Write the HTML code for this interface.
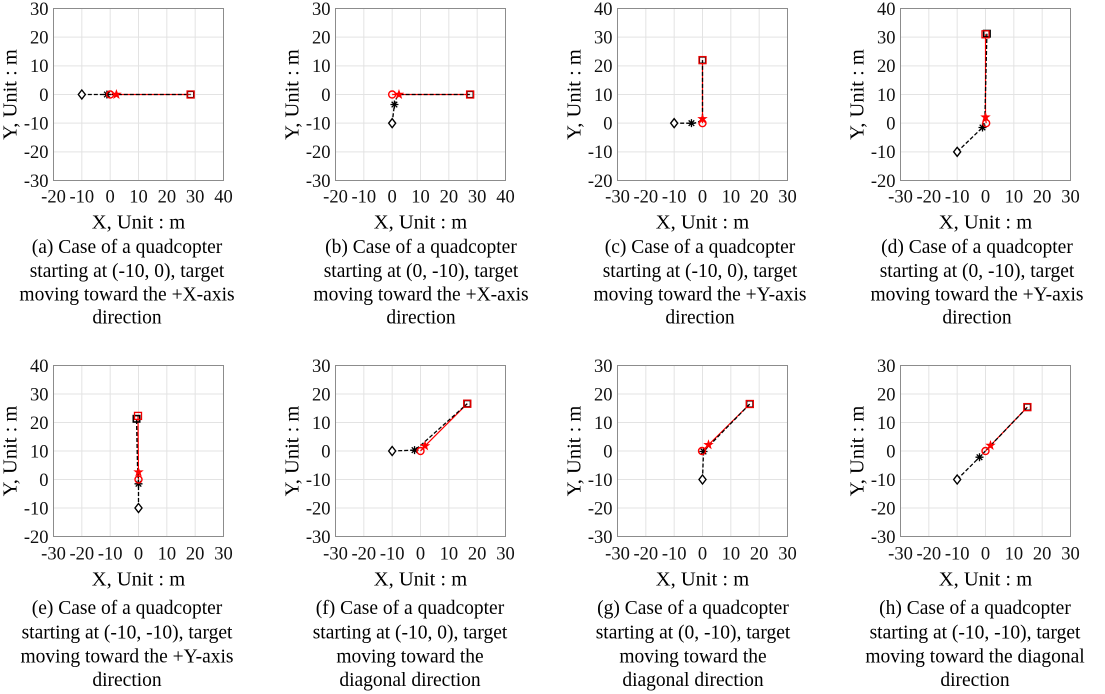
<!DOCTYPE html>
<html><head><meta charset="utf-8"><style>
html,body{margin:0;padding:0;background:#fff;}
svg{display:block;}
text{font-family:"Liberation Serif","Times New Roman",Times,"DejaVu Serif",serif;}
.tk{font-size:18.5px;fill:#111;}
.tx{text-anchor:middle;}
.ty{text-anchor:end;}
.lb{font-size:20.5px;fill:#000;text-anchor:middle;}
.cp{font-size:19.5px;fill:#000;text-anchor:middle;}
.rl{fill:none;stroke:#f00;stroke-width:1.2;}
.bl{fill:none;stroke:#000;stroke-width:1.3;stroke-dasharray:4,2;}
.bx{fill:none;stroke:#8c8c8c;stroke-width:1;}
</style></head><body>
<svg width="1105" height="694" viewBox="0 0 1105 694" xmlns="http://www.w3.org/2000/svg" font-family="Liberation Serif, Times New Roman, DejaVu Serif, serif">
<defs>
<path id="dia" d="M0,-4.5L3.5,0L0,4.5L-3.5,0Z" fill="#fff" stroke="#000" stroke-width="1.4"/>
<path id="ast" d="M0,-4V4M-4,0H4M-2.8,-2.8L2.8,2.8M-2.8,2.8L2.8,-2.8" stroke="#000" stroke-width="1.3" fill="none"/>
<circle id="cir" r="3.5" fill="none" stroke="#f00" stroke-width="1.4"/>
<path id="stp" d="M0,-5.5L1.29,-1.78L5.23,-1.7L2.09,0.68L3.23,4.45L0,2.2L-3.23,4.45L-2.09,0.68L-5.23,-1.7L-1.29,-1.78Z" fill="#f00"/>
<rect id="sqk" x="-3.2" y="-3.2" width="6.4" height="6.4" fill="none" stroke="#000" stroke-width="1.6"/>
<rect id="sqr" x="-3.5" y="-3.5" width="7" height="7" fill="none" stroke="#e00" stroke-width="1.3"/>
<g id="ax1"><rect width="170" height="172" fill="#fff"/><path d="M28.33,0V172M56.67,0V172M85,0V172M113.33,0V172M141.67,0V172M0,28.67H170M0,57.33H170M0,86H170M0,114.67H170M0,143.33H170" stroke="#e3e3e3" stroke-width="1" fill="none"/></g>
<g id="ax2"><rect width="170" height="171" fill="#fff"/><path d="M28.33,0V171M56.67,0V171M85,0V171M113.33,0V171M141.67,0V171M0,28.5H170M0,57H170M0,85.5H170M0,114H170M0,142.5H170" stroke="#e3e3e3" stroke-width="1" fill="none"/></g>
</defs>
<rect width="1105" height="694" fill="#fff"/>

<!-- (a) -->
<g transform="translate(53.5,8.5)">
<use href="#ax1"/>
<path class="rl" d="M56.67,86H137.1"/>
<path class="bl" d="M28.33,86H137.1"/>
<use href="#dia" x="28.33" y="86"/><use href="#ast" x="53.4" y="86"/><use href="#cir" x="56.67" y="86"/>
<use href="#sqk" x="137.1" y="86"/><use href="#sqr" x="137.1" y="86"/><use href="#stp" x="62.9" y="86"/>
<rect class="bx" width="170" height="172"/>
<g class="tk ty" font-family="Liberation Serif, DejaVu Serif, serif"><text x="-5" y="6.3">30</text><text x="-5" y="35">20</text><text x="-5" y="63.6">10</text><text x="-5" y="92.3">0</text><text x="-5" y="121">-10</text><text x="-5" y="149.6">-20</text><text x="-5" y="178.3">-30</text></g>
<g class="tk tx" font-family="Liberation Serif, DejaVu Serif, serif"><text x="0" y="194">-20</text><text x="28.33" y="194">-10</text><text x="56.67" y="194">0</text><text x="85" y="194">10</text><text x="113.33" y="194">20</text><text x="141.67" y="194">30</text><text x="170" y="194">40</text></g>
<text class="lb" font-family="Liberation Serif, DejaVu Serif, serif" x="85" y="220">X, Unit : m</text>
<text class="lb" font-family="Liberation Serif, DejaVu Serif, serif" transform="translate(-44,86) rotate(-90)" y="7">Y, Unit : m</text>
</g>

<!-- (b) -->
<g transform="translate(335.5,8.5)">
<use href="#ax1"/>
<path class="rl" d="M56.67,86H134.6"/>
<path class="bl" d="M56.67,114.67L58.93,96.03Q60.5,87 66,86H134.6"/>
<use href="#dia" x="56.67" y="114.67"/><use href="#ast" x="58.93" y="96.03"/><use href="#cir" x="56.67" y="86"/>
<use href="#sqk" x="134.6" y="86"/><use href="#sqr" x="134.6" y="86"/><use href="#stp" x="63.47" y="86"/>
<rect class="bx" width="170" height="172"/>
<g class="tk ty" font-family="Liberation Serif, DejaVu Serif, serif"><text x="-5" y="6.3">30</text><text x="-5" y="35">20</text><text x="-5" y="63.6">10</text><text x="-5" y="92.3">0</text><text x="-5" y="121">-10</text><text x="-5" y="149.6">-20</text><text x="-5" y="178.3">-30</text></g>
<g class="tk tx" font-family="Liberation Serif, DejaVu Serif, serif"><text x="0" y="194">-20</text><text x="28.33" y="194">-10</text><text x="56.67" y="194">0</text><text x="85" y="194">10</text><text x="113.33" y="194">20</text><text x="141.67" y="194">30</text><text x="170" y="194">40</text></g>
<text class="lb" font-family="Liberation Serif, DejaVu Serif, serif" x="85" y="220">X, Unit : m</text>
<text class="lb" font-family="Liberation Serif, DejaVu Serif, serif" transform="translate(-44,86) rotate(-90)" y="7">Y, Unit : m</text>
</g>

<!-- (c) -->
<g transform="translate(617.5,8.5)">
<use href="#ax1"/>
<path class="rl" d="M85,114.67V51.6"/>
<path class="bl" d="M56.67,114.67H73.95Q84,114.5 85,108V51.6"/>
<use href="#dia" x="56.67" y="114.67"/><use href="#ast" x="73.95" y="114.67"/><use href="#cir" x="85" y="114.67"/>
<use href="#sqk" x="85" y="51.6"/><use href="#sqr" x="85" y="51.6"/><use href="#stp" x="85" y="110.37"/>
<rect class="bx" width="170" height="172"/>
<g class="tk ty" font-family="Liberation Serif, DejaVu Serif, serif"><text x="-5" y="6.3">40</text><text x="-5" y="35">30</text><text x="-5" y="63.6">20</text><text x="-5" y="92.3">10</text><text x="-5" y="121">0</text><text x="-5" y="149.6">-10</text><text x="-5" y="178.3">-20</text></g>
<g class="tk tx" font-family="Liberation Serif, DejaVu Serif, serif"><text x="0" y="194">-30</text><text x="28.33" y="194">-20</text><text x="56.67" y="194">-10</text><text x="85" y="194">0</text><text x="113.33" y="194">10</text><text x="141.67" y="194">20</text><text x="170" y="194">30</text></g>
<text class="lb" font-family="Liberation Serif, DejaVu Serif, serif" x="85" y="220">X, Unit : m</text>
<text class="lb" font-family="Liberation Serif, DejaVu Serif, serif" transform="translate(-44,86) rotate(-90)" y="7">Y, Unit : m</text>
</g>

<!-- (d) -->
<g transform="translate(900.5,8.5)">
<use href="#ax1"/>
<path class="rl" d="M85.7,114.67L85,108.65L85,25.8"/>
<path class="bl" d="M56.67,143.33L82,118.97Q84.5,115 84.5,105L86.4,25.2"/>
<use href="#dia" x="56.67" y="143.33"/><use href="#ast" x="82" y="118.97"/><use href="#cir" x="85.7" y="114.67"/>
<use href="#sqk" x="86.4" y="25.2"/><use href="#sqr" x="85" y="25.8"/><use href="#stp" x="85" y="108.65"/>
<rect class="bx" width="170" height="172"/>
<g class="tk ty" font-family="Liberation Serif, DejaVu Serif, serif"><text x="-5" y="6.3">40</text><text x="-5" y="35">30</text><text x="-5" y="63.6">20</text><text x="-5" y="92.3">10</text><text x="-5" y="121">0</text><text x="-5" y="149.6">-10</text><text x="-5" y="178.3">-20</text></g>
<g class="tk tx" font-family="Liberation Serif, DejaVu Serif, serif"><text x="0" y="194">-30</text><text x="28.33" y="194">-20</text><text x="56.67" y="194">-10</text><text x="85" y="194">0</text><text x="113.33" y="194">10</text><text x="141.67" y="194">20</text><text x="170" y="194">30</text></g>
<text class="lb" font-family="Liberation Serif, DejaVu Serif, serif" x="85" y="220">X, Unit : m</text>
<text class="lb" font-family="Liberation Serif, DejaVu Serif, serif" transform="translate(-44,86) rotate(-90)" y="7">Y, Unit : m</text>
</g>

<!-- (e) -->
<g transform="translate(53.5,365.5)">
<use href="#ax2"/>
<path class="rl" d="M85,114L84.5,50.4"/>
<path class="bl" d="M85,142.5V118.3Q84.5,110 84,100L83,53.3"/>
<use href="#dia" x="85" y="142.5"/><use href="#ast" x="85" y="118.3"/><use href="#cir" x="85" y="114"/>
<use href="#sqk" x="83" y="53.3"/><use href="#sqr" x="84.5" y="50.4"/><use href="#stp" x="85" y="106.6"/>
<rect class="bx" width="170" height="171"/>
<g class="tk ty" font-family="Liberation Serif, DejaVu Serif, serif"><text x="-5" y="6.3">40</text><text x="-5" y="34.8">30</text><text x="-5" y="63.3">20</text><text x="-5" y="91.8">10</text><text x="-5" y="120.3">0</text><text x="-5" y="148.8">-10</text><text x="-5" y="177.3">-20</text></g>
<g class="tk tx" font-family="Liberation Serif, DejaVu Serif, serif"><text x="0" y="194">-30</text><text x="28.33" y="194">-20</text><text x="56.67" y="194">-10</text><text x="85" y="194">0</text><text x="113.33" y="194">10</text><text x="141.67" y="194">20</text><text x="170" y="194">30</text></g>
<text class="lb" font-family="Liberation Serif, DejaVu Serif, serif" x="85" y="220">X, Unit : m</text>
<text class="lb" font-family="Liberation Serif, DejaVu Serif, serif" transform="translate(-44,85.5) rotate(-90)" y="7">Y, Unit : m</text>
</g>

<!-- (f) -->
<g transform="translate(335.5,365.5)">
<use href="#ax2"/>
<path class="rl" d="M85,85.5L89.5,80.4L131.75,38.2"/>
<path class="bl" d="M56.67,85.5L79.05,84.65L85,80L131.75,38.2"/>
<use href="#dia" x="56.67" y="85.5"/><use href="#ast" x="79.05" y="84.65"/><use href="#cir" x="85" y="85.5"/>
<use href="#sqk" x="131.75" y="38.2"/><use href="#sqr" x="131.75" y="38.2"/><use href="#stp" x="89.5" y="80.4"/>
<rect class="bx" width="170" height="171"/>
<g class="tk ty" font-family="Liberation Serif, DejaVu Serif, serif"><text x="-5" y="6.3">30</text><text x="-5" y="34.8">20</text><text x="-5" y="63.3">10</text><text x="-5" y="91.8">0</text><text x="-5" y="120.3">-10</text><text x="-5" y="148.8">-20</text><text x="-5" y="177.3">-30</text></g>
<g class="tk tx" font-family="Liberation Serif, DejaVu Serif, serif"><text x="0" y="194">-30</text><text x="28.33" y="194">-20</text><text x="56.67" y="194">-10</text><text x="85" y="194">0</text><text x="113.33" y="194">10</text><text x="141.67" y="194">20</text><text x="170" y="194">30</text></g>
<text class="lb" font-family="Liberation Serif, DejaVu Serif, serif" x="85" y="220">X, Unit : m</text>
<text class="lb" font-family="Liberation Serif, DejaVu Serif, serif" transform="translate(-44,85.5) rotate(-90)" y="7">Y, Unit : m</text>
</g>

<!-- (g) -->
<g transform="translate(617.5,365.5)">
<use href="#ax2"/>
<path class="rl" d="M84.5,85.5L91,79.3L132.3,38.5"/>
<path class="bl" d="M85,114L86,86L132.3,38.5"/>
<use href="#dia" x="85" y="114"/><use href="#ast" x="86" y="86"/><use href="#cir" x="84.5" y="85.5"/>
<use href="#sqk" x="132.3" y="38.5"/><use href="#sqr" x="132.3" y="38.5"/><use href="#stp" x="91" y="79.3"/>
<rect class="bx" width="170" height="171"/>
<g class="tk ty" font-family="Liberation Serif, DejaVu Serif, serif"><text x="-5" y="6.3">30</text><text x="-5" y="34.8">20</text><text x="-5" y="63.3">10</text><text x="-5" y="91.8">0</text><text x="-5" y="120.3">-10</text><text x="-5" y="148.8">-20</text><text x="-5" y="177.3">-30</text></g>
<g class="tk tx" font-family="Liberation Serif, DejaVu Serif, serif"><text x="0" y="194">-30</text><text x="28.33" y="194">-20</text><text x="56.67" y="194">-10</text><text x="85" y="194">0</text><text x="113.33" y="194">10</text><text x="141.67" y="194">20</text><text x="170" y="194">30</text></g>
<text class="lb" font-family="Liberation Serif, DejaVu Serif, serif" x="85" y="220">X, Unit : m</text>
<text class="lb" font-family="Liberation Serif, DejaVu Serif, serif" transform="translate(-44,85.5) rotate(-90)" y="7">Y, Unit : m</text>
</g>

<!-- (h) -->
<g transform="translate(900.5,365.5)">
<use href="#ax2"/>
<path class="rl" d="M85,85.5L90,80L126.9,41.6"/>
<path class="bl" d="M56.67,114L79,91.7L126.9,41.6"/>
<use href="#dia" x="56.67" y="114"/><use href="#ast" x="79" y="91.7"/><use href="#cir" x="85" y="85.5"/>
<use href="#sqk" x="126.9" y="41.6"/><use href="#sqr" x="126.9" y="41.6"/><use href="#stp" x="90" y="80"/>
<rect class="bx" width="170" height="171"/>
<g class="tk ty" font-family="Liberation Serif, DejaVu Serif, serif"><text x="-5" y="6.3">30</text><text x="-5" y="34.8">20</text><text x="-5" y="63.3">10</text><text x="-5" y="91.8">0</text><text x="-5" y="120.3">-10</text><text x="-5" y="148.8">-20</text><text x="-5" y="177.3">-30</text></g>
<g class="tk tx" font-family="Liberation Serif, DejaVu Serif, serif"><text x="0" y="194">-30</text><text x="28.33" y="194">-20</text><text x="56.67" y="194">-10</text><text x="85" y="194">0</text><text x="113.33" y="194">10</text><text x="141.67" y="194">20</text><text x="170" y="194">30</text></g>
<text class="lb" font-family="Liberation Serif, DejaVu Serif, serif" x="85" y="220">X, Unit : m</text>
<text class="lb" font-family="Liberation Serif, DejaVu Serif, serif" transform="translate(-44,85.5) rotate(-90)" y="7">Y, Unit : m</text>
</g>

<!-- captions -->
<g class="cp" font-family="Liberation Serif, DejaVu Serif, serif">
<text x="127" y="253">(a) Case of a quadcopter</text>
<text x="127" y="277">starting at (-10, 0), target</text>
<text x="127" y="300.5">moving toward the +X-axis</text>
<text x="127" y="323.5">direction</text>

<text x="421" y="253">(b) Case of a quadcopter</text>
<text x="421" y="277">starting at (0, -10), target</text>
<text x="421" y="300.5">moving toward the +X-axis</text>
<text x="421" y="323.5">direction</text>

<text x="700" y="253">(c) Case of a quadcopter</text>
<text x="700" y="277">starting at (-10, 0), target</text>
<text x="700" y="300.5">moving toward the +Y-axis</text>
<text x="700" y="323.5">direction</text>

<text x="977" y="253">(d) Case of a quadcopter</text>
<text x="977" y="277">starting at (0, -10), target</text>
<text x="977" y="300.5">moving toward the +Y-axis</text>
<text x="977" y="323.5">direction</text>

<text x="127" y="614">(e) Case of a quadcopter</text>
<text x="127" y="638.5">starting at (-10, -10), target</text>
<text x="127" y="662.5">moving toward the +Y-axis</text>
<text x="127" y="686">direction</text>

<text x="410" y="614">(f) Case of a quadcopter</text>
<text x="410" y="638.5">starting at (-10, 0), target</text>
<text x="410" y="662.5">moving toward the</text>
<text x="410" y="686">diagonal direction</text>

<text x="693" y="614">(g) Case of a quadcopter</text>
<text x="693" y="638.5">starting at (0, -10), target</text>
<text x="693" y="662.5">moving toward the</text>
<text x="693" y="686">diagonal direction</text>

<text x="975" y="614">(h) Case of a quadcopter</text>
<text x="975" y="638.5">starting at (-10, -10), target</text>
<text x="975" y="662.5">moving toward the diagonal</text>
<text x="975" y="686">direction</text>
</g>
</svg>
</body></html>
